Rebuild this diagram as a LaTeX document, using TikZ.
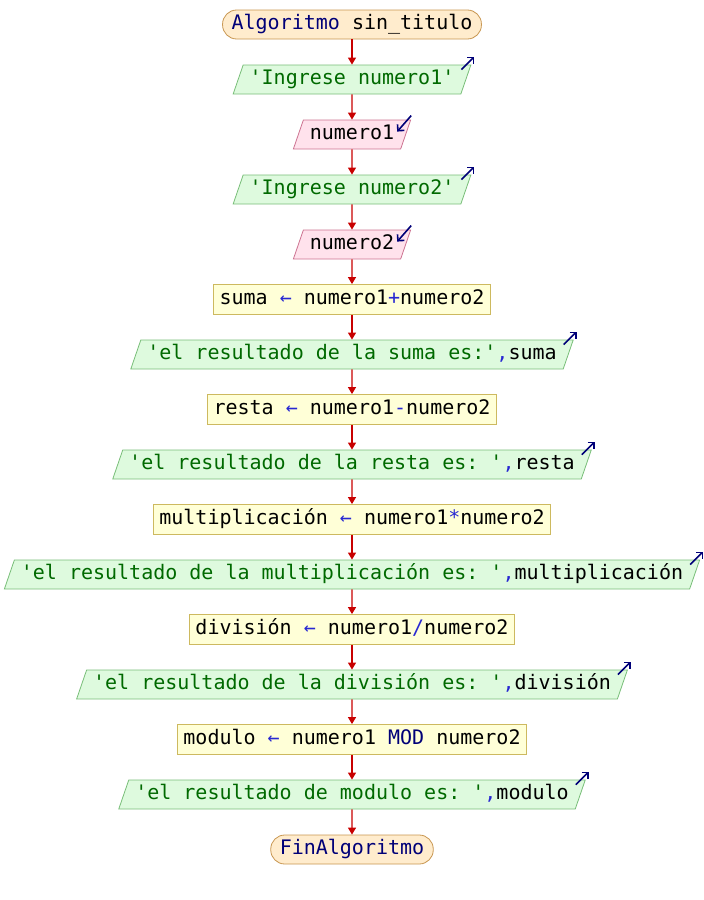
\documentclass[tikz,border=0pt]{standalone}
\usepackage{fontspec}
\setmonofont{DejaVu Sans Mono}
\usetikzlibrary{shapes.geometric,arrows.meta}

\definecolor{termfill}{RGB}{255,236,205}
\definecolor{termdraw}{RGB}{200,150,80}
\definecolor{asgfill}{RGB}{255,255,215}
\definecolor{asgdraw}{RGB}{205,185,95}
\definecolor{outfill}{RGB}{222,250,222}
\definecolor{outdraw}{RGB}{120,190,120}
\definecolor{infill}{RGB}{255,226,236}
\definecolor{indraw}{RGB}{205,115,145}
\definecolor{flowred}{RGB}{200,0,0}
\definecolor{strgreen}{RGB}{0,105,0}
\definecolor{opblue}{RGB}{40,40,210}
\definecolor{kwnavy}{RGB}{0,0,120}

\newcommand{\strtxt}[1]{\textcolor{strgreen}{#1}}
\newcommand{\optxt}[1]{\textcolor{opblue}{#1}}
\newcommand{\kwtxt}[1]{\textcolor{kwnavy}{#1}}
\newcommand{\sq}{\textquotesingle}

\tikzset{
  base/.style={font=\ttfamily\fontsize{20}{24}\selectfont, text height=15pt, text depth=5pt, inner ysep=4.5pt, line width=0.8pt},
  term/.style={base, draw=termdraw, fill=termfill, rounded corners=14pt, inner xsep=9pt},
  assign/.style={base, draw=asgdraw, fill=asgfill, inner xsep=6pt, inner ysep=5pt},
  iobox/.style={base, trapezium, trapezium left angle=71, trapezium right angle=109, inner xsep=6.5pt},
  outbox/.style={iobox, draw=outdraw, fill=outfill},
  inbox/.style={iobox, draw=indraw, fill=infill},
  flow/.style={draw=flowred, line width=1.2pt, -{Triangle[width=8pt,length=7pt]}},
  ioarrow/.style={draw=kwnavy, line width=1.6pt, -{Straight Barb[length=4.5pt,width=9pt]}}
}

\begin{document}
\begin{tikzpicture}[x=1pt,y=1pt]
\useasboundingbox (0,0) rectangle (704,-900);

% bloques
\node[term] (inicio) at (352,-24.5) {\kwtxt{Algoritmo} sin\_titulo};
\node[outbox] (sal1) at (352,-79.5) {\strtxt{\sq Ingrese numero1\sq}};
\node[inbox] (leer1) at (352,-134.5) {numero1};
\node[outbox] (sal2) at (352,-189.5) {\strtxt{\sq Ingrese numero2\sq}};
\node[inbox] (leer2) at (352,-244.5) {numero2};
\node[assign] (suma) at (352,-299.5) {suma \optxt{←} numero1\optxt{+}numero2};
\node[outbox] (salsuma) at (352,-354.5) {\strtxt{\sq el resultado de la suma es:\sq}\optxt{,}suma};
\node[assign] (resta) at (352,-409.5) {resta \optxt{←} numero1\optxt{-}numero2};
\node[outbox] (salresta) at (352,-464.5) {\strtxt{\sq el resultado de la resta es: \sq}\optxt{,}resta};
\node[assign] (mult) at (352,-519.5) {multiplicación \optxt{←} numero1\optxt{*}numero2};
\node[outbox] (salmult) at (352,-574.5) {\strtxt{\sq el resultado de la multiplicación es: \sq}\optxt{,}multiplicación};
\node[assign] (div) at (352,-629.5) {división \optxt{←} numero1\optxt{/}numero2};
\node[outbox] (saldiv) at (352,-684.5) {\strtxt{\sq el resultado de la división es: \sq}\optxt{,}división};
\node[assign] (mod) at (352,-739.5) {modulo \optxt{←} numero1 \kwtxt{MOD} numero2};
\node[outbox] (salmod) at (352,-794.5) {\strtxt{\sq el resultado de modulo es: \sq}\optxt{,}modulo};
\node[term] (fin) at (352,-849.5) {\kwtxt{FinAlgoritmo}};

% flujo
\draw[flow] (inicio) -- (sal1);
\draw[flow] (sal1) -- (leer1);
\draw[flow] (leer1) -- (sal2);
\draw[flow] (sal2) -- (leer2);
\draw[flow] (leer2) -- (suma);
\draw[flow] (suma) -- (salsuma);
\draw[flow] (salsuma) -- (resta);
\draw[flow] (resta) -- (salresta);
\draw[flow] (salresta) -- (mult);
\draw[flow] (mult) -- (salmult);
\draw[flow] (salmult) -- (div);
\draw[flow] (div) -- (saldiv);
\draw[flow] (saldiv) -- (mod);
\draw[flow] (mod) -- (salmod);
\draw[flow] (salmod) -- (fin);

% flechas de escritura y lectura
\draw[ioarrow] ([shift={(-10pt,-5pt)}]sal1.top right corner) -- ([shift={(3pt,8pt)}]sal1.top right corner);
\draw[ioarrow] ([shift={(-10pt,-5pt)}]sal2.top right corner) -- ([shift={(3pt,8pt)}]sal2.top right corner);
\draw[ioarrow] ([shift={(-10pt,-5pt)}]salsuma.top right corner) -- ([shift={(3pt,8pt)}]salsuma.top right corner);
\draw[ioarrow] ([shift={(-10pt,-5pt)}]salresta.top right corner) -- ([shift={(3pt,8pt)}]salresta.top right corner);
\draw[ioarrow] ([shift={(-10pt,-5pt)}]salmult.top right corner) -- ([shift={(3pt,8pt)}]salmult.top right corner);
\draw[ioarrow] ([shift={(-10pt,-5pt)}]saldiv.top right corner) -- ([shift={(3pt,8pt)}]saldiv.top right corner);
\draw[ioarrow] ([shift={(-10pt,-5pt)}]salmod.top right corner) -- ([shift={(3pt,8pt)}]salmod.top right corner);
\draw[ioarrow] ([shift={(0pt,4pt)}]leer1.top right corner) -- ([shift={(-14pt,-12pt)}]leer1.top right corner);
\draw[ioarrow] ([shift={(0pt,4pt)}]leer2.top right corner) -- ([shift={(-14pt,-12pt)}]leer2.top right corner);
\end{tikzpicture}
\end{document}
